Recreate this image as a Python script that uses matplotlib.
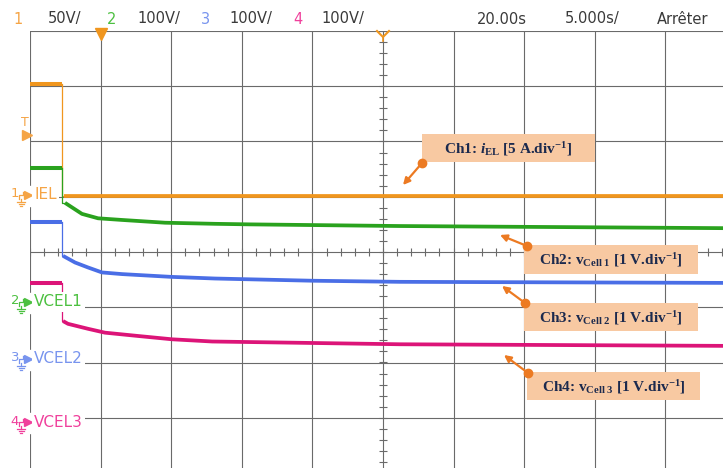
"""
Scope capture: electrolyser current and cell voltages after switch-off.
"""

import numpy as np
import matplotlib
matplotlib.use("Agg")
import matplotlib.pyplot as plt
import matplotlib.patches as mpatches

# ── data (time in s relative to trigger, scope delay = 20 s) ───────────────
T_SWITCH = -2.73

i_el_pre = 10.1                       # A
i_el_t   = [-2.6, 45.0]
i_el     = [0.0, 0.0]

v1_pre = 2.44                         # V
v1_t   = [-2.52, -1.32, -0.18, 1.52, 4.56, 8.1, 10.6, 21.2, 45.0]
v1     = [1.81, 1.61, 1.53, 1.50, 1.45, 1.43, 1.42, 1.39, 1.35]

v2_pre = 2.49
v2_t   = [-2.66, -1.81, -0.89, 0.10, 1.52, 5.0, 8.1, 15.0, 21.2, 45.0]
v2     = [1.88, 1.76, 1.67, 1.58, 1.55, 1.50, 1.47, 1.43, 1.41, 1.39]

v3_pre = 2.54
v3_t   = [-2.66, -2.31, -0.89, 0.31, 2.65, 5.06, 7.9, 21.2, 45.0]
v3     = [1.85, 1.80, 1.71, 1.64, 1.58, 1.52, 1.48, 1.43, 1.40]

# channel settings: scale per div, ground offset in div
CH_SCALE  = [5.0, 1.0, 1.0, 1.0]
CH_OFFSET = [1.02, -0.92, -1.95, -3.10]
CH_NAMES  = ["IEL", "VCEL1", "VCEL2", "VCEL3"]
CH_SETTINGS = ["50V/", "100V/", "100V/", "100V/"]
TIME_TEXT = ["20.00s", "5.000s/", "Arrêter"]

ANNOT = [
    r"Ch1: $i_{\mathrm{EL}}$ [5 A.div$^{\mathrm{-1}}$]",
    r"Ch2: v$_{\mathrm{Cell\ 1}}$ [1 V.div$^{\mathrm{-1}}$]",
    r"Ch3: v$_{\mathrm{Cell\ 2}}$ [1 V.div$^{\mathrm{-1}}$]",
    r"Ch4: v$_{\mathrm{Cell\ 3}}$ [1 V.div$^{\mathrm{-1}}$]",
]

# colours
TRACE = ["#f0961e", "#2aa21e", "#4a6ee6", "#dc1478"]
LABEL = ["#f5a445", "#4cc040", "#7894ee", "#f0409c"]
GRID  = "#6a6a6a"
PEACH = "#f8c9a2"
NAVY  = "#1c2a4e"
ARROW = "#ec7a22"

plt.rcParams.update({
    "mathtext.fontset": "custom",
    "mathtext.rm": "Liberation Serif:bold",
    "mathtext.it": "Liberation Serif:italic:bold",
    "mathtext.bf": "Liberation Serif:bold",
})

W, H = 723, 468
fig = plt.figure(figsize=(W / 100, H / 100), dpi=100)
fig.patch.set_facecolor("white")

# screen: 10 x 8 div, 70.6 x 55.3 px per div, left/top at (30, 31)
ax = fig.add_axes([30 / W, 1 - 473 / H, 706 / W, 442 / H])
ax.set_xlim(-5, 45)
ax.set_ylim(-4, 4)
ax.axis("off")

for k in range(11):
    ax.axvline(-5 + 5 * k, color=GRID, lw=0.8, zorder=1)
for k in range(9):
    ax.axhline(-4 + k, color=GRID, lw=0.8, zorder=1)
# minor ticks on centre cross
xt = np.arange(-5, 45.01, 1.0)
ax.plot(xt, np.zeros_like(xt), ls="none", marker="|", ms=6, mew=0.8, color=GRID, zorder=1)
yt = np.arange(-4, 4.01, 0.2)
ax.plot(np.full_like(yt, 20.0), yt, ls="none", marker="_", ms=6, mew=0.8, color=GRID, zorder=1)


def trace(pre, t, vals, idx):
    sc, off = CH_SCALE[idx], CH_OFFSET[idx]
    c = TRACE[idx]
    ypre = pre / sc + off
    ypost = np.array(vals) / sc + off
    ax.plot([-5, T_SWITCH], [ypre, ypre], color=c, lw=2.9, solid_capstyle="butt", zorder=3)
    ax.plot([T_SWITCH, T_SWITCH, t[0]], [ypre, ypost[0], ypost[0]], color=c, lw=0.9, zorder=3)
    ax.plot(t, ypost, color=c, lw=2.7, solid_capstyle="butt", zorder=3)


trace(i_el_pre, i_el_t, i_el, 0)
trace(v1_pre, v1_t, v1, 1)
trace(v2_pre, v2_t, v2, 2)
trace(v3_pre, v3_t, v3, 3)

# ── overlay in pixel coordinates ───────────────────────────────────────────
ov = fig.add_axes([0, 0, 1, 1], zorder=5)
ov.set_xlim(0, W)
ov.set_ylim(H, 0)
ov.axis("off")
ov.patch.set_alpha(0)

# top status bar
num_x = [18, 112, 205, 298]
set_x = [48, 137, 229, 321]
for k in range(4):
    ov.text(num_x[k], 19, str(k + 1), color=LABEL[k], fontsize=10.5, ha="center", va="center")
    ov.text(set_x[k], 19, CH_SETTINGS[k], color="#3a3a3a", fontsize=10.5, ha="left", va="center")
for x, s in zip([477, 565, 657], TIME_TEXT):
    ov.text(x, 19, s, color="#3a3a3a", fontsize=10.5, ha="left", va="center")

# trigger position / delay markers
ov.plot([101], [34], marker="v", ms=8, color=TRACE[0], mec=TRACE[0], ls="none")
ov.plot([377, 383, 389], [31, 37, 31], color=TRACE[0], lw=1.5)
ov.plot([383, 383], [37, 41], color=TRACE[0], lw=1.2)

# trigger level marker
ov.text(25, 123, "T", color=LABEL[0], fontsize=9, ha="center", va="center")
ov.plot([27], [135], marker=">", ms=7, color=LABEL[0], ls="none")

# channel ground markers + labels
gnd_y = [251 - CH_OFFSET[k] * 55.3 for k in range(4)]
for k in range(4):
    y = gnd_y[k]
    c = LABEL[k]
    ov.add_patch(mpatches.Rectangle((9, y - 9), 24, 20, color="white", zorder=2))
    ov.text(15, y - 1, str(k + 1), color=c, fontsize=9.5, ha="center", va="center", zorder=3)
    ov.plot([19, 19, 23, 23], [y + 4, y, y, y - 3], color=c, lw=0.9, zorder=3)
    ov.plot([21, 21], [y + 4, y + 7], color=c, lw=0.9, zorder=3)
    ov.plot([17, 25], [y + 7, y + 7], color=c, lw=0.9, zorder=3)
    ov.plot([18.5, 23.5], [y + 9, y + 9], color=c, lw=0.9, zorder=3)
    ov.plot([20, 22], [y + 11, y + 11], color=c, lw=0.9, zorder=3)
    ov.plot([28], [y], marker=">", ms=6, color=c, ls="none", zorder=3)
    ov.text(34, y, CH_NAMES[k], color=c, fontsize=11, ha="left", va="center", zorder=3,
            bbox=dict(facecolor="white", edgecolor="none", pad=1.5))

# annotation boxes with arrows
boxes = [(422, 134, 173, 28), (524, 245, 174, 29), (524, 303, 174, 28), (527, 372, 173, 28)]
tails = [(422, 163), (527, 246), (525, 303), (528, 373)]
heads = [(403, 185), (500, 235), (502, 286), (504, 355)]
for k in range(4):
    x0, y0, bw, bh = boxes[k]
    ov.add_patch(mpatches.Rectangle((x0, y0), bw, bh, facecolor=PEACH, edgecolor="none", zorder=4))
    ov.text(x0 + bw / 2, y0 + bh / 2 + 1, ANNOT[k], color=NAVY, fontsize=11,
            family="Liberation Serif", weight="bold", ha="center", va="center", zorder=5)
    ov.annotate("", xy=heads[k], xytext=tails[k],
                arrowprops=dict(arrowstyle="-|>", color=ARROW, lw=1.6, mutation_scale=10,
                                shrinkA=0, shrinkB=0), zorder=6)
    ov.plot([tails[k][0]], [tails[k][1]], marker="o", ms=6, color=ARROW, zorder=6)

fig.savefig("out.png", dpi=100)
